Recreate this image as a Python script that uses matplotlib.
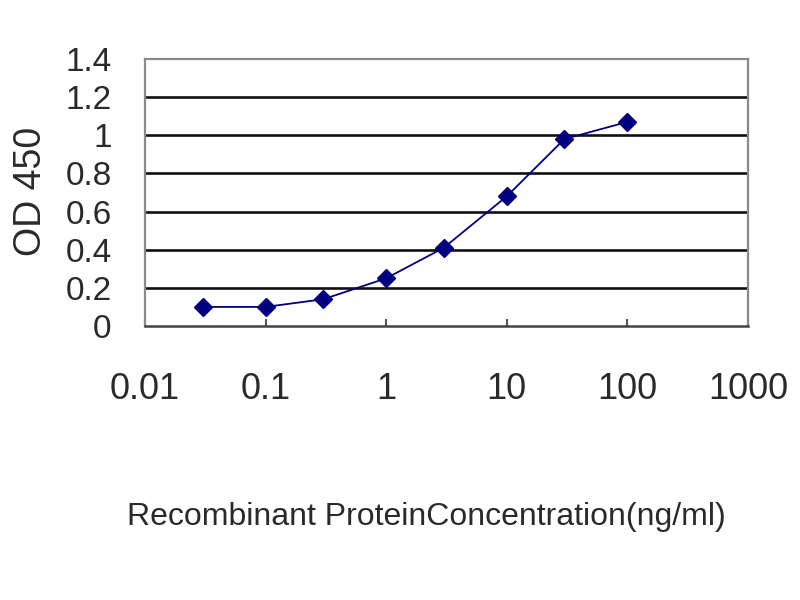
import matplotlib
matplotlib.use("Agg")
import matplotlib.pyplot as plt
from matplotlib import font_manager

# ---- data ----
conc = [0.03, 0.1, 0.3, 1, 3, 10, 30, 100]
od450 = [0.10, 0.10, 0.14, 0.25, 0.41, 0.68, 0.98, 1.07]
x_ticks = [0.01, 0.1, 1, 10, 100, 1000]
x_tick_labels = ["0.01", "0.1", "1", "10", "100", "1000"]
y_ticks = [0, 0.2, 0.4, 0.6, 0.8, 1.0, 1.2, 1.4]
y_tick_labels = ["0", "0.2", "0.4", "0.6", "0.8", "1", "1.2", "1.4"]

names = {f.name for f in font_manager.fontManager.ttflist}
base_font = "Liberation Sans" if "Liberation Sans" in names else "DejaVu Sans"
narrow_font = "Liberation Sans Narrow" if "Liberation Sans Narrow" in names else base_font
plt.rcParams["font.family"] = [base_font, "DejaVu Sans"]

TEXT = "#2a2a2a"
NAVY = "#000080"

fig = plt.figure(figsize=(8, 6), dpi=100)
ax = fig.add_axes([0.18125, 0.4567, 0.935 - 0.18125, 0.9017 - 0.4567])

ax.plot(conc, od450, color=NAVY, lw=1.3, marker="D", ms=9,
        mfc=NAVY, mec=NAVY, zorder=3)

ax.set_xscale("log")
ax.set_xlim(0.01, 1000)
ax.set_ylim(0, 1.4)
ax.set_xticks(x_ticks)
ax.set_xticklabels(x_tick_labels, fontsize=26, color=TEXT,
                   family=[narrow_font, "DejaVu Sans"])
ax.xaxis.set_minor_locator(matplotlib.ticker.NullLocator())
ax.set_yticks(y_ticks)
ax.set_yticklabels(y_tick_labels, fontsize=24, color=TEXT,
                   family=[narrow_font, "DejaVu Sans"])

ax.tick_params(axis="x", direction="in", length=5, width=1.5,
               color="#555555", pad=33)
ax.tick_params(axis="y", length=0, pad=24)

# horizontal gridlines (not at 0 / 1.4, those are the frame)
for y in y_ticks[1:-1]:
    ax.axhline(y, color="#111111", lw=1.9, zorder=1)

for side in ["top", "right", "left"]:
    ax.spines[side].set_color("#8a8a8a")
    ax.spines[side].set_linewidth(1.6)
ax.spines["bottom"].set_color("#444444")
ax.spines["bottom"].set_linewidth(1.8)

ax.set_ylabel("OD 450", fontsize=27, color=TEXT)
ax.yaxis.set_label_coords(-0.16, 0.505)
ax.set_xlabel("Recombinant ProteinConcentration(ng/ml)", fontsize=23,
              color=TEXT)
ax.xaxis.set_label_coords(0.466, -0.66)

fig.savefig("out.png", dpi=100)
